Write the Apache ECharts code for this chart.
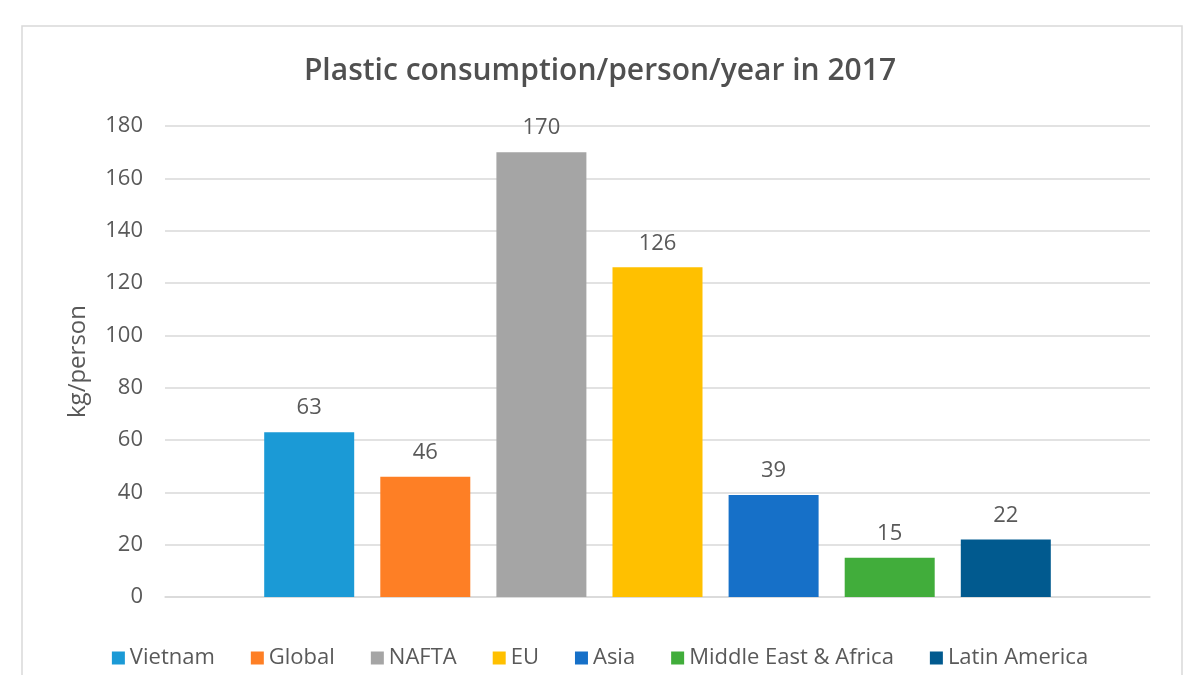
<!DOCTYPE html>
<html>
<head>
<meta charset="utf-8">
<title>Plastic consumption/person/year in 2017</title>
<script src="https://cdn.jsdelivr.net/npm/echarts@6/dist/echarts.min.js"></script>
<style>
    html, body { margin: 0; padding: 0; background: #fff; }
    #main { width: 1200px; height: 675px; }
</style>
</head>
<body>
<div id="main"></div>
<script>
// 数据
var regions = ['Vietnam', 'Global', 'NAFTA', 'EU', 'Asia', 'Middle East & Africa', 'Latin America'];
var values = [63, 46, 170, 126, 39, 15, 22];
var colors = ['#1b9ad6', '#fe7f25', '#a5a5a5', '#ffc000', '#1670c8', '#41ad3b', '#015a8f'];
var yTicks = [0, 20, 40, 60, 80, 100, 120, 140, 160, 180];

(function () {
    var myChart = echarts.init(document.getElementById("main"));

    // 每个地区一个系列，这样图例才会分开显示
    var series = regions.map(function (name, i) {
        return {
            name: name,
            type: 'bar',
            barWidth: 90,
            barGap: '29%',
            itemStyle: {
                color: colors[i]
            },
            label: {
                show: true,
                position: 'top',
                distance: 13,
                color: '#595959',
                fontSize: 22,
                fontFamily: 'Open Sans'
            },
            data: [values[i]]
        };
    });

    var option = {
        animation: false,
        textStyle: {
            fontFamily: 'Open Sans'
        },
        title: {
            text: 'Plastic consumption/person/year in 2017',
            left: 'center',
            top: 51,
            textStyle: {
                color: '#505050',
                fontSize: 30,
                fontWeight: 600,
                fontFamily: 'Open Sans'
            }
        },
        // 外框
        graphic: [{
            type: 'rect',
            shape: { x: 22, y: 26, width: 1160, height: 680 },
            style: { fill: 'none', stroke: '#d9d9d9', lineWidth: 1.5 },
            silent: true
        }],
        legend: {
            bottom: 1,
            left: 'center',
            icon: 'rect',
            itemWidth: 13,
            itemHeight: 13,
            itemGap: 36,
            textStyle: {
                color: '#595959',
                fontSize: 22
            },
            data: regions
        },
        grid: {
            left: 165,
            right: 50,
            top: 126,
            bottom: 78
        },
        xAxis: {
            type: 'category',
            data: [''],
            axisTick: { show: false },
            axisLabel: { show: false },
            axisLine: {
                lineStyle: { color: '#d9d9d9', width: 1.5 }
            }
        },
        yAxis: {
            type: 'value',
            min: yTicks[0],
            max: yTicks[yTicks.length - 1],
            interval: 20,
            name: 'kg/person',
            nameLocation: 'middle',
            nameGap: 75,
            nameTextStyle: {
                color: '#595959',
                fontSize: 24
            },
            axisLine: { show: false },
            axisTick: { show: false },
            axisLabel: {
                color: '#595959',
                fontSize: 22,
                margin: 22
            },
            splitLine: {
                lineStyle: { color: '#d9d9d9', width: 1.5 }
            }
        },
        series: series
    };

    myChart.setOption(option);

    window.addEventListener("resize", function () {
        myChart.resize();
    });
})();
</script>
</body>
</html>
